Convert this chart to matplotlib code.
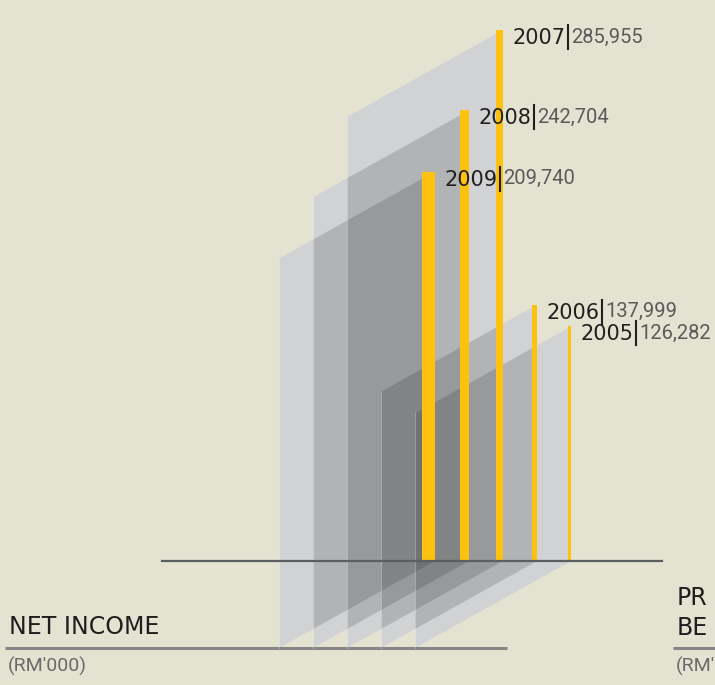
import matplotlib.pyplot as plt
from matplotlib.patches import Polygon
from matplotlib.lines import Line2D
from matplotlib.transforms import IdentityTransform

# data (RM'000), front panel first
years = ['2009', '2008', '2007', '2006', '2005']
net_income = [209740, 242704, 285955, 137999, 126282]
value_labels = ['209,740', '242,704', '285,955', '137,999', '126,282']

title = 'NET INCOME'
unit = "(RM'000)"
# neighbouring chart, only its first letters are visible at the right edge
next_title = ['PR', 'BE']
next_unit = "(RM'"

# layout / style
W, H = 715, 685
bg = '#e4e2d0'
bar_color = '#fdc20f'
bar_right = [435, 469, 503, 537, 571]
bar_width = [13, 9, 7, 5, 3]
depth_x, depth_y = 156, 87   # slant of the panels, px
base_px = 561                # baseline, px from top
k = 538.5                    # RM'000 per pixel


def py2y(py):
    return (base_px - py) * k


fig = plt.figure(figsize=(W / 100, H / 100), dpi=100, facecolor=bg)
ax = fig.add_axes([0, 0, 1, 1])
ax.set_xlim(0, W)
ax.set_ylim(py2y(H), py2y(0))
ax.axis('off')

# translucent panels behind the bars
base_rgb = (246 / 255, 247 / 255, 249 / 255)
shade = (20 / 255, 20 / 255, 24 / 255, 0.16)
panels = []
for xr, v in zip(bar_right, net_income):
    xl = xr - depth_x
    dy = depth_y * k
    panels.append([(xr, 0), (xr, v), (xl, v - dy), (xl, -dy)])
for pts in panels:
    ax.add_patch(Polygon(pts, closed=True, fc=base_rgb, ec='none', zorder=1))
for pts in panels:
    ax.add_patch(Polygon(pts, closed=True, fc=shade, ec='none', zorder=2))
    (xl, y0), (_, y1) = pts[3], pts[2]
    ax.plot([xl, xl], [y0, y1], color='white', alpha=0.3, lw=0.8, zorder=2.5)

# bars
centers = [xr - w / 2 for xr, w in zip(bar_right, bar_width)]
ax.bar(centers, net_income, width=bar_width, color=bar_color, zorder=4)
ax.plot([162, 662], [0, 0], color='#5d5e62', lw=1.6, zorder=5)

# year labels
year_texts = []
for xr, v, yr in zip(bar_right, net_income, years):
    t = ax.annotate(yr, xy=(xr, v), xytext=(9, -8), textcoords='offset pixels',
                    ha='left', va='center', fontsize=15, family='DejaVu Sans',
                    color='#231f20', zorder=6)
    year_texts.append(t)

fig.canvas.draw()
renderer = fig.canvas.get_renderer()
for t, lab in zip(year_texts, value_labels):
    bb = t.get_window_extent(renderer)
    xs = bb.x1 + 3
    yc = (bb.y0 + bb.y1) / 2 + 1
    fig.add_artist(Line2D([xs, xs], [yc - 12, yc + 12], transform=IdentityTransform(),
                          color='#231f20', lw=1.5, zorder=6))
    fig.text(xs + 3, yc, lab, transform=IdentityTransform(), ha='left', va='center',
             fontsize=14.5, family='Roboto', color='#5a5a5a', zorder=6)

# titles at the bottom
ax.plot([5, 507], [py2y(648)] * 2, color='#868686', lw=2.2, solid_capstyle='butt')
ax.text(9, py2y(627), title, fontsize=17, va='center', ha='left',
        family='DejaVu Sans', color='#1e1e1e')
ax.text(8, py2y(666), unit, fontsize=14, va='center', ha='left',
        family='Roboto', color='#6a6a6a')

ax.plot([673, 720], [py2y(648)] * 2, color='#868686', lw=2.2, solid_capstyle='butt')
ax.text(677, py2y(598), next_title[0], fontsize=17, va='center', ha='left',
        family='DejaVu Sans', color='#1e1e1e')
ax.text(677, py2y(628), next_title[1], fontsize=17, va='center', ha='left',
        family='DejaVu Sans', color='#1e1e1e')
ax.text(676, py2y(666), next_unit, fontsize=14, va='center', ha='left',
        family='Roboto', color='#6a6a6a')

fig.savefig('out.png', dpi=100, facecolor=bg)
